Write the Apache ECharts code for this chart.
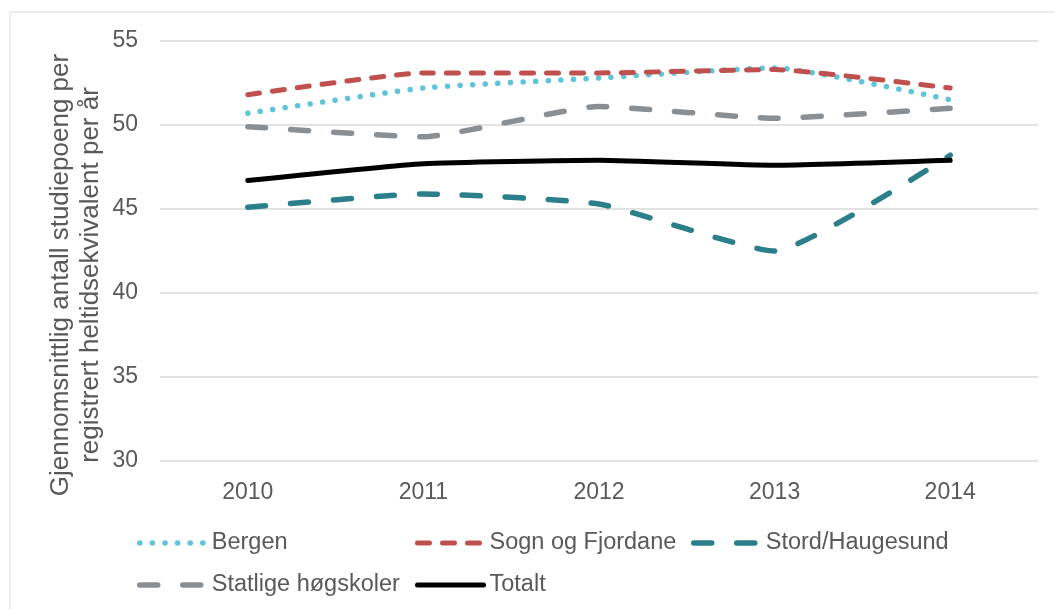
<!DOCTYPE html>
<html>
<head>
<meta charset="utf-8">
<script src="https://cdn.jsdelivr.net/npm/echarts@6/dist/echarts.min.js"></script>
<style>
  html, body { margin: 0; padding: 0; background: #fff; }
  #chart { width: 1055px; height: 609px; }
</style>
</head>
<body>
<div id="chart"></div>
<script>
var years = ["2010", "2011", "2012", "2013", "2014"];
var bergen = [50.7, 52.2, 52.8, 53.4, 51.5];
var sognOgFjordane = [51.8, 53.1, 53.1, 53.3, 52.2];
var stordHaugesund = [45.1, 45.9, 45.3, 42.5, 48.2];
var statligeHogskoler = [49.9, 49.3, 51.1, 50.4, 51.0];
var totalt = [46.7, 47.7, 47.9, 47.6, 47.9];

var font = "Liberation Sans, Arial, sans-serif";
var grey = "#595959";

var styles = {
  "Bergen": { color: "#5fc4d9", width: 5.5, type: [0.1, 12.5] },
  "Sogn og Fjordane": { color: "#c0504d", width: 5, type: [12, 13] },
  "Stord/Haugesund": { color: "#2a7f8b", width: 5.5, type: [18, 25] },
  "Statlige høgskoler": { color: "#8a8f94", width: 5.5, type: [18, 25] },
  "Totalt": { color: "#000000", width: 5, type: "solid" },
};

var chartDom = document.getElementById("chart");
var chart = echarts.init(chartDom);

function lineSeries(name, data) {
  var s = styles[name];
  return {
    name: name,
    type: "line",
    data: data,
    symbol: "none",
    smooth: 0.15,
    lineStyle: {
      color: s.color,
      width: s.width,
      type: s.type,
      cap: "round",
    },
    itemStyle: { color: s.color },
  };
}

function legendCol(left, names) {
  var items = names.map(function (n) {
    var s = styles[n];
    return {
      name: n,
      itemStyle: { opacity: 0 },
      lineStyle: { color: s.color, width: s.width, type: s.type, cap: "round" },
    };
  });
  return {
    orient: "vertical",
    left: left,
    top: 526,
    itemWidth: 66,
    itemHeight: 22,
    itemGap: 18,
    data: items,
    textStyle: {
      fontFamily: font,
      fontSize: 23.5,
      color: grey,
      padding: [0, 0, 0, 1],
    },
  };
}

var option = {
  animation: false,
  backgroundColor: "#fff",
  textStyle: { fontFamily: font },
  graphic: [
    {
      type: "rect",
      shape: { x: 10, y: 12, width: 1100, height: 700 },
      style: { fill: "none", stroke: "#d9d9d9", lineWidth: 1 },
      silent: true,
    },
    {
      type: "text",
      x: 76,
      y: 275,
      rotation: Math.PI / 2,
      style: {
        text: "Gjennomsnittlig antall studiepoeng per\nregistrert heltidsekvivalent per år",
        font: "26px " + font,
        fill: grey,
        align: "center",
        verticalAlign: "middle",
        lineHeight: 30,
      },
    },
  ],
  legend: [
    legendCol(132, ["Bergen", "Statlige høgskoler"]),
    legendCol(410, ["Sogn og Fjordane", "Totalt"]),
    legendCol(686, ["Stord/Haugesund"]),
  ],
  grid: {
    left: 160,
    right: 17,
    top: 41,
    bottom: 148,
  },
  xAxis: {
    type: "category",
    data: years,
    axisLine: { show: false },
    axisTick: { show: false },
    axisLabel: {
      fontFamily: font,
      fontSize: 23,
      color: grey,
      margin: 20,
    },
  },
  yAxis: {
    type: "value",
    min: 30,
    max: 55,
    interval: 5,
    axisLine: { show: false },
    axisTick: { show: false },
    axisLabel: {
      fontFamily: font,
      fontSize: 23,
      color: grey,
      margin: 22,
    },
    splitLine: {
      lineStyle: { color: "#d9d9d9", width: 1.5 },
    },
  },
  series: [
    lineSeries("Bergen", bergen),
    lineSeries("Sogn og Fjordane", sognOgFjordane),
    lineSeries("Stord/Haugesund", stordHaugesund),
    lineSeries("Statlige høgskoler", statligeHogskoler),
    lineSeries("Totalt", totalt),
  ],
};

chart.setOption(option);
</script>
</body>
</html>
